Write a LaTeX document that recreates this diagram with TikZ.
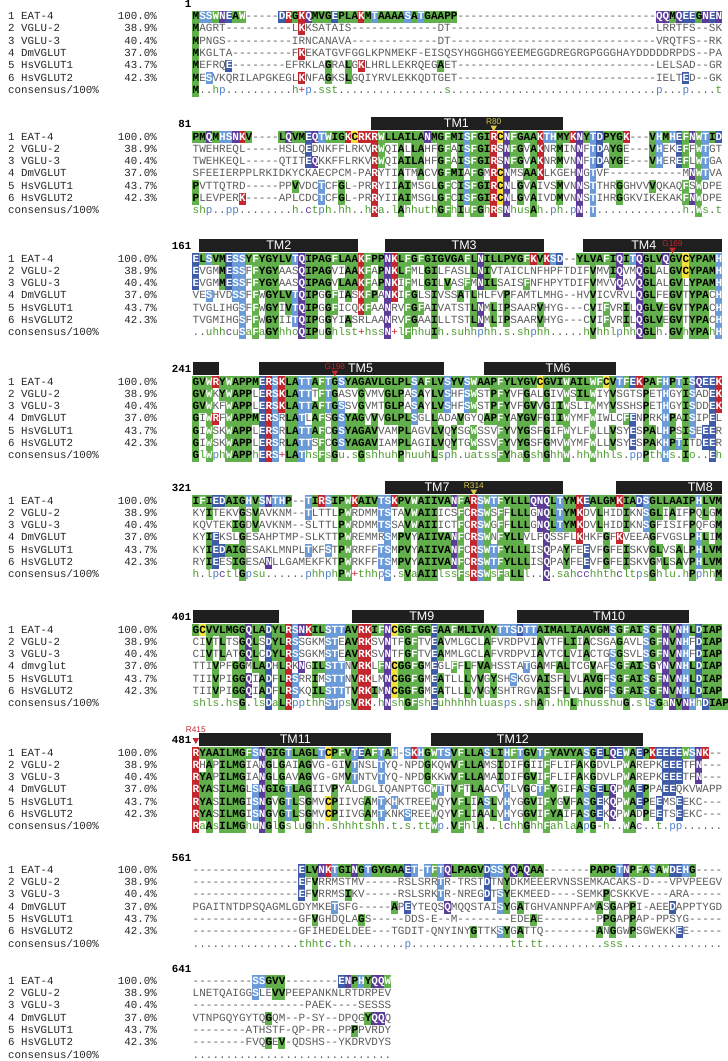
\documentclass[tikz,border=0pt]{standalone}
\usepackage{fontspec}
\newfontfamily\seqfont{Liberation Mono}
\newfontfamily\tmfont{Liberation Sans}
\usetikzlibrary{positioning}
\definecolor{cgreen}{HTML}{62B04B}
\definecolor{cltblue}{HTML}{6A9BD8}
\definecolor{cblue}{HTML}{3E5BAA}
\definecolor{cpurple}{HTML}{5B3C99}
\definecolor{cred}{HTML}{C4262E}
\definecolor{cyellow}{HTML}{F3E03B}
\definecolor{cgrey}{HTML}{5C5C5C}
\definecolor{cgreentext}{HTML}{4E9A2E}
\definecolor{cbluetext}{HTML}{4F7FC9}
\definecolor{cmark}{HTML}{D9C84A}
\tikzset{
  rowtext/.style={inner sep=0pt, anchor=west, text height=7pt, text depth=1.6pt, text=cgrey, font=\seqfont\fontsize{11}{12}\selectfont},
  lab/.style={inner sep=0pt, text height=7pt, text depth=1.6pt, text=black!85, font=\seqfont\fontsize{10.8}{12}\selectfont},
  blocknum/.style={inner sep=0pt, anchor=east, text height=7pt, text depth=1.6pt, font=\seqfont\bfseries\fontsize{10.8}{12}\selectfont},
  tmbox/.style={fill=black!88, inner sep=0pt, minimum height=13.5pt, anchor=west},
  tmtext/.style={inner sep=0pt, text=white, font=\tmfont\fontsize{12.5}{13}\selectfont},
  marklab/.style={inner sep=0pt, font=\tmfont\fontsize{8.3}{9}\selectfont},
}
% residue colours: background / letter
\foreach \r/\b/\f in {A/cgreen/black, G/cgreen/black, V/cgreen/black, L/cgreen/black, I/cgreen/black, M/cgreen/black,
  P/cgreen/black, Y/cgreen/black, B/cgreen/black, J/cgreen/black, O/cgreen/black, U/cgreen/black, X/cgreen/black, Z/cgreen/black,
  F/cgreen/white, W/cgreen/white, S/cltblue/white, T/cltblue/white, H/cltblue/white, D/cblue/white, E/cblue/white,
  N/cpurple/white, Q/cpurple/white, K/cred/white, R/cred/white, C/cyellow/black}
  {\expandafter\xdef\csname bg-\r\endcsname{\b}\expandafter\xdef\csname fg-\r\endcsname{\f}}
% consensus symbols
\foreach \r/\f in {h/cgreentext, s/cgreentext, u/cgreentext, a/cgreentext, l/cgreentext, t/cgreentext, o/cgreentext,
  p/cbluetext, c/cpurple, +/cred, ./cgrey, -/cgrey}
  {\expandafter\xdef\csname con-\r\endcsname{\f}}
\newcount\rescol
\newif\ifisref
\newif\ifconrow
\newif\ifhit
\def\xs{192.5}
\def\cw{6.62}
\def\dmname{DmVGLUT}
\newcommand\blocky[1]{\ifcase#1 4.5\or 125\or 247\or 370\or 489\or 618\or 741\or 858.3\or 969.3\fi}
% reference row, stored column by column
\def\setref#1{\global\rescol=0 \setrefloop#1\relax}
\def\setrefloop#1{\ifx#1\relax\else\global\advance\rescol by 1
  \expandafter\gdef\csname refch\the\rescol\endcsname{#1}\expandafter\setrefloop\fi}
\def\hltest#1{\global\hitfalse
  \ifconrow
    \ifcsname con-#1\endcsname\else\global\hittrue\fi
  \else
    \if#1-\else
      \ifisref\global\hittrue
      \else\edef\refc{\csname refch\the\rescol\endcsname}\if#1\refc\global\hittrue\fi\fi
    \fi
  \fi}
\def\fillloop#1{\ifx#1\relax\else\global\advance\rescol by 1 \fillres{#1}\expandafter\fillloop\fi}
\def\fillres#1{\hltest{#1}\ifhit
  \edef\dofill{\noexpand\fill[\csname bg-#1\endcsname] ({\xs+\cw*(\the\rescol-1)-0.15},\rowy-6.15) rectangle ({\xs+\cw*\the\rescol+0.15},\rowy+6.15);}\dofill\fi}
\def\textloop#1{\ifx#1\relax\else\global\advance\rescol by 1 \textres{#1}\expandafter\textloop\fi}
\def\textres#1{\hltest{#1}\hbox to \cw pt{\hss\ifhit\color{\csname fg-#1\endcsname}\bfseries\else
  \ifconrow\color{\csname con-#1\endcsname}\fi\fi#1\hss}}
\def\seqrow#1#2#3{%
  \pgfmathsetmacro\rowy{\by+12.3*#2}%
  \global\rescol=0 \fillloop#3\relax
  \node[rowtext] (s#1-#2) at (\xs,\rowy) {\global\rescol=0 \textloop#3\relax};}
% one block: index, first residue, six rows, consensus
\newcommand\seqblock[9]{%
  \pgfmathsetmacro\by{\blocky{#1}}
  \node[blocknum] (n#1) at (191.5,\by) {#2};
  \setref{#3}%
  \isreftrue\seqrow{#1}{1}{#3}\isreffalse
  \seqrow{#1}{2}{#4}\seqrow{#1}{3}{#5}\seqrow{#1}{4}{#6}\seqrow{#1}{5}{#7}\seqrow{#1}{6}{#8}%
  \conrowtrue\seqrow{#1}{7}{#9}\conrowfalse
  \foreach \nm/\pc [count=\i] in {EAT-4/100.0\%, VGLU-2/38.9\%, VGLU-3/40.4\%, \dmname/37.0\%, HsVGLUT1/43.7\%, HsVGLUT2/42.3\%} {
    \node[lab, anchor=west] (l#1-\i) at (8,\by+12.3*\i) {\i\ \nm};
    \node[lab, anchor=east] (p#1-\i) at (157,\by+12.3*\i) {\pc};
  }
  \node[lab, anchor=west] (lc#1) at (8,\by+12.3*7) {consensus/100\%};
}
% TM bar: [label shift] block, first col, last col, name, label
\newcommand\tmbar[6][0]{%
  \pgfmathsetmacro\by{\blocky{#2}}
  \node[tmbox, minimum width={\cw*(#4-#3+1)*1pt}] (#5) at ({\xs+\cw*(#3-1)},\by-1.5) {};
  \node[tmtext] (#5-lab) at ([xshift=#1pt]#5.center) {#6};
}
% residue marker: block, col, name, colour, triangle shift, label shift
\newcommand\tmmark[6]{%
  \pgfmathsetmacro\by{\blocky{#1}}
  \pgfmathsetmacro\mx{\xs+\cw*(#2-0.5)}
  \fill[#4] (\mx-3.3,\by+#5) -- (\mx+3.3,\by+#5) -- (\mx,\by+#5+6) -- cycle;
  \node[marklab, text=#4, anchor=south] (m#3) at (\mx,\by+#6) {#3};
}
\begin{document}
\begin{tikzpicture}[x=1pt, y=-1pt]
  \useasboundingbox (0,0) rectangle (728,1061);
  \seqblock{0}{1}
    {MSSWNEAW-----DRGKQMVGEPLAKMTAAAASATGAAPP------------------------------QQMQEEGNEN}
    {MAGRT----------LKKSATAIS-------------DT-------------------------------LRRTFS--SK}
    {MPNGS----------IRNCANAVA-------------DT-------------------------------VRQTFS--RK}
    {MKGLTA---------FKEKATGVFGGLKPNMEKF-EISQSYHGGHGGYEEMEGGDREGRGPGGGHAYDDDDDRPDS--PA}
    {MEFRQE--------EFRKLAGRALGKLHRLLEKRQEGAET------------------------------LELSAD--GR}
    {MESVKQRILAPGKEGLKNFAGKSLGQIYRVLEKKQDTGET------------------------------IELTED--GK}
    {M..hp..........h+p.sst................s...............................p...p....t}
  \seqblock{1}{81}
    {PMQMHSNKV----LQVMEQTWIGKCRKRWLLAILANMGFMISFGIRCNFGAAKTHMYKNYTDPYGK---VHMHEFNWTID}
    {TWEHREQL-----HSLQEDNKFFLRKVRWQIALLAHFGFAISFGIRSNFGVAKNRMINNFTDAYGE---VHEKEFFWTGT}
    {TWEHKEQL-----QTITEQKKFFLRKVRWQIAILAHFGFAISFGIRSNFGVAKNRMVNNFTDAYGE---VHEREFLWTGA}
    {SFEEIERPPLRKIDKYCKAECPCM-PARYTIATMACVGFMIAFGMRCNMSAAKLKGEHNGTVF-----------MNWTVA}
    {PVTTQTRD-----PPVVDCTCFGL-PRRYIIAIMSGLGFCISFGIRCNLGVAIVSMVNNSTTHRGGHVVVQKAQFSWDPE}
    {PLEVPERK-----APLCDCTCFGL-PRRYIIAIMSGLGFCISFGIRCNLGVAIVDMVNNSTIHRGGKVIKEKAKFNWDPE}
    {shp..pp........h.ctph.hh..hRa.lAhhuthGFhIuFGhRsNhusAh.ph.pN.T.............h.Ws.t}
  \tmbar[-11]{1}{28}{56}{tm1}{TM1}
  \tmmark{1}{46}{R80}{cmark}{0.5}{-0.5}
  \seqblock{2}{161}
    {ELSVMESSYFYGYLVTQIPAGFLAAKFPPNKLFGFGIGVGAFLNILLPYGFKVKSD--YLVAFIQITQGLVQGVCYPAMH}
    {EVGMMESSFFYGYAASQIPAGVIAAKFAPNKLFMLGILFASLLNIVTAICLNFHPFTDIFVMVIQVMQGLALGVCYPAMH}
    {EVGMMESSFFYGYAASQIPAGVLAAKFAPNKIFMLGILVASFMNILSAISFNFHPYTDIFVMVVQAVQGLALGVLYPAMH}
    {VESHVDSSFFWGYLVTQIPGGFIASKFPANKIFGLSIVSSATLHLFVPFAMTLMHG--HVVICVRVLQGLFEGVTYPACH}
    {TVGLIHGSFFWGYIVTQIPGGFICQKFAANRVFGFAIVATSTLNMLIPSAARVHYG---CVIFVRILQGLVEGVTYPACH}
    {TVGMIHGSFFWGYIITQIPGGYIASRLAANRVFGAAILLTSTLNMLIPSAARVHYG---CVIFVRILQGLVEGVTYPACH}
    {..uhhcuSaFaGYhhoQIPuGhlst+hssN+lFhhuIh.suhhphh.s.shphh.....hVhhlphhQGLh.GVhYPAhH}
  \tmbar{2}{2}{25}{tm2}{TM2}
  \tmbar{2}{30}{53}{tm3}{TM3}
  \tmbar[-9]{2}{60}{80}{tm4}{TM4}
  \tmmark{2}{73}{G169}{cred}{0.5}{-0.5}
  \seqblock{3}{241}
    {GVWRYWAPPMERSKLATTAFTGSYAGAVLGLPLSAFLVSYVSWAAPFYLYGVCGVIWAILWFCVTFEKPAFHPTISQEEK}
    {GVWKYWAPPLERSKLATTTFTGASVGVMVGLPASAYLVSHFSWSTPFYVFGALGIVWSILWIYVSGTSPETHGYISADEK}
    {GVWKFWAPPLERSKLATTAFTGSSVGVMTGLPASAYLVSHFSWSTPFYVFGVVGIIWSLIWMYVSSHSPETHGYISDDEK}
    {GIWRFWAPPMERSRLATLAFSGSYAGVVVGLPLSGLLADAVGYQAPFYAYGVFGIIWYMFWIWLCFENPRKHPAISIPEL}
    {GIWSKWAPPLERSRLATTAFCGSYAGAVVAMPLAGVLVQYSGWSSVFYVYGSFGIFWYLFWLLVSYESPALHPSISEEER}
    {GIWSKWAPPLERSRLATTSFCGSYAGAVIAMPLAGILVQYTGWSSVFYVYGSFGMVWYMFWLLVSYESPAKHPTITDEER}
    {GlWphWAPPhERS+LAThsFsGu.sGshhuhPhuuhLsph.uatssFYhaGshGhhW.hhWhhls.ppPthHs.Io..Eh}
  \tmbar{3}{1}{4}{tm4b}{}
  \tmbar[9]{3}{11}{38}{tm5}{TM5}
  \tmbar[8]{3}{45}{64}{tm6}{TM6}
  \tmmark{3}{22}{G198}{cred}{0.5}{-0.5}
  \seqblock{4}{321}
    {IFIEDAIGHVSNTHP--TIRSIPWKAIVTSKPVWAIIVANFARSWTFYLLLQNQLTYMKEALGMKIADSGLLAAIPHLVM}
    {KYITEKVGSVAVKNM--TLTTLPWRDMMTSTAVWAIIICSFCRSWSFFLLLGNQLTYMKDVLHIDIKNSGLIAIFPQLGM}
    {KQVTEKIGDVAVKNM--SLTTLPWRDMMTSSAVWAIIICTFCRSWGFFLLLGNQLTYMKDVLHIDIKNSGFISIFPQFGM}
    {KYIEKSLGESAHPTMP-SLKTTPWREMMRSMPVYAIIVANFCRSWNFYLLVLFQSSFLKHKFGFKVEEAGFVGSLPHLIM}
    {KYIEDAIGESAKLMNPLTKFSTPWRRFFTSMPVYAIIVANFCRSWTFYLLLISQPAYFEEVFGFEISKVGLVSALPHLVM}
    {RYIEESIGESANLLGAMEKFKTPWRKFFTSMPVYAIIVANFCRSWTFYLLLISQPAYFEEVFGFEISKVGMLSAVPHLVM}
    {h.lpctlGpsu......phhphPW+thhpS.sVaAIIlssFsRSWsFaLLl..Q.sahcchhthcltpsGhlu.hPphhM}
  \tmbar[-37]{4}{30}{56}{tm7}{TM7}
  \tmbar[31]{4}{65}{80}{tm8}{TM8}
  \tmmark{4}{43}{R314}{cmark}{0.5}{-0.5}
  \def\dmname{dmvglut}
  \seqblock{5}{401}
    {GCVVLMGGQLADYLRSNKILSTTAVRKIFNCGGFGGEAAFMLIVAYTTSDTTAIMALIAAVGMSGFAISGFNVNHLDIAP}
    {CIVTLTSGQLSDYLRSSGKMSTEAVRKSVNTFGFTVEAVMLGCLAFVRDPVIAVTFLIIACSGAGAVLSGFNVNHFDIAP}
    {CIVTLATGQLCDYLRSSGKMSTEAVRKSVNTFGFTVEAMMLGCLAFVRDPVIAVTCLVIACTGSGSVLSGFNVNHFDIAP}
    {TTIVPFGGMLADHLRKNGILSTTNVRKLFNCGGFGMEGLFFLFVAHSSTATGAMFALTCGVAFSGFAISGYNVNHLDIAP}
    {TIIVPIGGQIADFLRSRRIMSTTNVRKLMNCGGFGMEATLLLVVGYSHSKGVAISFLVLAVGFSGFAISGFNVNHLDIAP}
    {TIIVPIGGQIADFLRSKQILSTTTVRKIMNCGGFGMEATLLLVVGYSHTRGVAISFLVLAVGFSGFAISGFNVNHLDIAP}
    {shls.hsG.lsDaLRppthhSTpsVRK.hNshGFshEuhhhhhluasps.shAh.hhLhhusshuG.slSGaNVNHhDIAP}
  \tmbar{5}{1}{13}{tm8b}{}
  \tmbar[4]{5}{25}{44}{tm9}{TM9}
  \tmbar[6]{5}{50}{75}{tm10}{TM10}
  \def\dmname{DmVGLUT}
  \seqblock{6}{481}
    {RYAAILMGFSNGIGTLAGLTCPFVTEAFTAH-SKHGWTSVFLLASLIHFTGVTFYAVYASGELQEWAEPKEEEEWSNK--}
    {RHAPILMGIANGLGAIAGVG-GIVTNSLTYQ-NPDGKQWVFLLAMSIDIFGIIFFLIFAKGDVLPWAREPKEEETFN---}
    {RYAPILMGIANGLGAVAGVG-GMVTNTVTYQ-NPDGKKWVFLLAMAIDIFGVIFFLIFAKGDVLPWAREPKEEETFN---}
    {RYASILMGLSNGIGTLAGIIVPYALDGLIQANPTGCWTTVFTLAACVHLVGCTFYGIFASGELQPWAEPPAEEQKVWAPP}
    {RYASILMGISNGVGTLSGMVCPIIVGAMTKHKTREEWQYVFLIASLVHYGGVIFYGVFASGEKQPWAEPEEMSEEKC---}
    {RYASILMGISNGVGTLSGMVCPIIVGAMTKNKSREEWQYVFLIAALVHYGGVIFYAIFASGEKQPWADPEETSEEKC---}
    {RaAsILMGhuNGlGsluGhh.shhhtshh.t.s.ttWp.VFhlA..lchhGhhFahlaApG-h..WAc..t.pp......}
  \tmbar{6}{2}{30}{tm11}{TM11}
  \tmbar[-24]{6}{37}{68}{tm12}{TM12}
  \tmmark{6}{1}{R415}{cred}{-3}{-8.5}
  \seqblock{7}{561}
    {----------------ELVNKTGINGTGYGAAET-TFTQLPAGVDSSYQAQAA-------PAPGTNPFASAWDEHG----}
    {----------------EFVRRMSTMV-----RSLSRRTR-TRSTDTNYDKMEEERVNSSEMKACAKS-D---VPVPEEGV}
    {----------------EFVRRMSIKV-----RSLSRKTR-NREGDTSYEKMEED----SEMKPCSKKVE---ARA-----}
    {PGAITNTDPSQAGMLGDYMKETSFG-----APEYTEQSQMQQSTAISYGATGHVANNPFAMASGAPPI-AEEDAPPTYGD}
    {----------------GFVGHDQLAGS-----DDS-E--M--------EDEAE--------PPGAPPAP-PPSYG-----}
    {----------------GFIHEDELDEE---TGDIT-QNYINYGTTKSYGATTQ--------ANGGWPSGWEKKEE-----}
    {................thhtc.th........p...............tt.tt.........sss...............}
  \seqblock{8}{641}
    {---------SSGVV--------ENPHYQQW}
    {LNETQAIGGSLEVVPEEPANKNLRTDRPEV}
    {-----------------PAEK----SESSS}
    {VTNPGQYGYTQGQM--P-SY--DPQGYQQQ}
    {--------ATHSTF-QP-PR--PPPPVRDY}
    {--------FVQGEV-QDSHS--YKDRVDYS}
    {..............................}
\end{tikzpicture}
\end{document}
